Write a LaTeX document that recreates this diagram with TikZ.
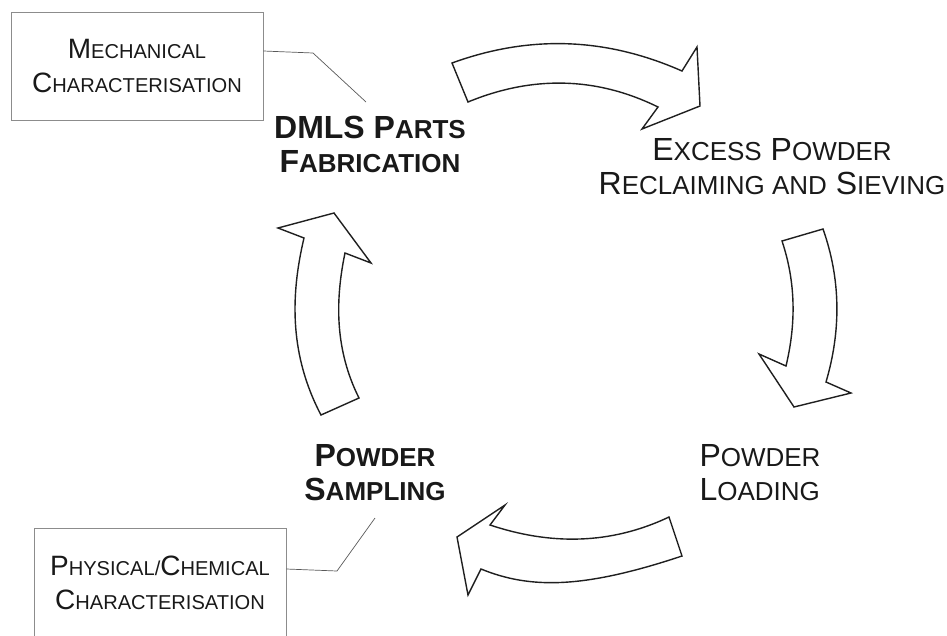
\documentclass[tikz,border=0pt]{standalone}
\usepackage{fontspec}
\setmainfont{Liberation Sans}
\usetikzlibrary{calc}

\newcommand\boxsc[1]{{\fontsize{20.1}{22}\selectfont #1}}
\newcommand\labsc[1]{{\fontsize{26}{30}\selectfont #1}}

\begin{document}
\begin{tikzpicture}[x=1pt,y=-1pt,
        every node/.style={text=black!90},
        stage/.style={align=center,font=\fontsize{32}{34}\selectfont},
        stagebold/.style={align=center,font=\bfseries\fontsize{32}{34}\selectfont},
        testbox/.style={draw=black!45,line width=0.8pt,minimum width=252pt,
                align=center,font=\fontsize{28}{34}\selectfont},
        lead/.style={draw=black!65,line width=0.7pt},
        bigarrow/.style={draw=black!88,line width=1.4pt,fill=white,line join=miter}]
    \useasboundingbox (0,0) rectangle (947,635);
    \clip (0,0) rectangle (947,635);

    \node[testbox,minimum height=108pt] (mech) at (137,66) {M\boxsc{ECHANICAL}\\C\boxsc{HARACTERISATION}};
    \node[testbox,minimum height=110pt] (phys) at (160,583) {P\boxsc{HYSICAL/}C\boxsc{HEMICAL}\\C\boxsc{HARACTERISATION}};

    \node[stagebold] (fab) at (370,144) {DMLS P\labsc{ARTS}\\F\labsc{ABRICATION}};
    \node[stage] (excess) at (772,167) {E\labsc{XCESS} P\labsc{OWDER}\\R\labsc{ECLAIMING AND} S\labsc{IEVING}};
    \node[stage,align=left] (load) at (760,473) {P\labsc{OWDER}\\L\labsc{OADING}};
    \node[stagebold] (samp) at (375,473) {P\labsc{OWDER}\\S\labsc{AMPLING}};

    \coordinate (k1) at (313,53);
    \coordinate (k2) at (366,102);
    \coordinate (k3) at (375,518);
    \coordinate (k4) at (337,571);
    \draw[lead] ([yshift=15pt]mech.east) -- (k1) -- (k2);
    \draw[lead] (k3) -- (k4) -- ([yshift=14pt]phys.east);

    \draw[bigarrow] (452,63) .. controls (529,35) and (605,37) .. (682,71) -- (697,47) -- (700,106)
        -- (642,129) -- (658,107) .. controls (595,76) and (531,76) .. (468,102) -- cycle;
    \draw[bigarrow] (782,241) -- (823,229) .. controls (841,280) and (841,331) .. (826,382) -- (851,393)
        -- (794,407) -- (759,354) -- (786,366) .. controls (796,324) and (796,283) .. (782,241) -- cycle;
    \draw[bigarrow] (669,517) .. controls (610,545) and (550,545) .. (490,525) -- (505,505) -- (457,537)
        -- (468,595) -- (481,569) .. controls (530,589) and (583,589) .. (682,556) -- cycle;
    \draw[bigarrow] (278,228) -- (334,213) -- (371,263) -- (345,253) .. controls (335,301) and (335,350) .. (359,398)
        -- (321,415) .. controls (290,356) and (290,297) .. (304,238) -- cycle;
\end{tikzpicture}
\end{document}
